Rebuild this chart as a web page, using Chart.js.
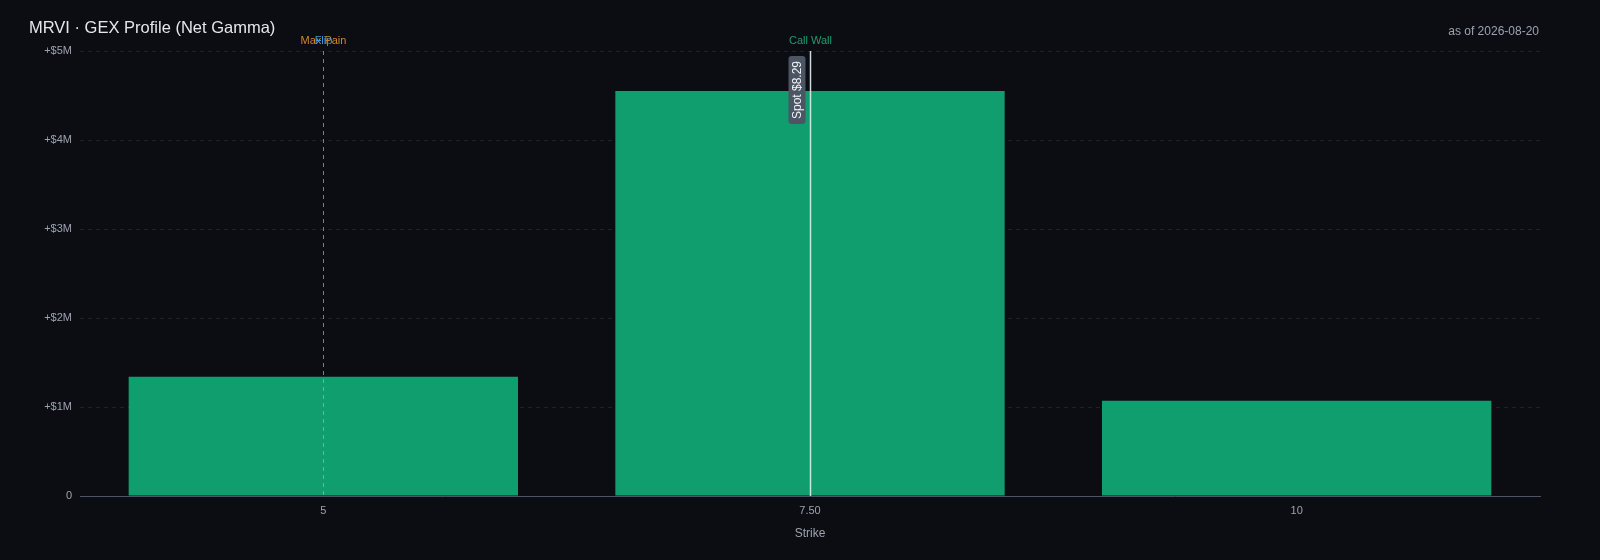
<!DOCTYPE html>
<html lang="en">
<head>
  <meta charset="UTF-8" />
  <title>MRVI GEX Profile</title>
  <script src="https://cdn.jsdelivr.net/npm/chart.js"></script>
  <style>
    html, body {
      margin: 0;
      padding: 0;
      background: #0b0d13;
      width: 1600px;
      height: 560px;
      overflow: hidden;
      font-family: 'Liberation Sans', Arial, sans-serif;
    }
    .wrap { position: relative; width: 1600px; height: 560px; }
    .title {
      position: absolute; left: 29px; top: 18px;
      color: #e5e7eb; font-size: 16.5px;
    }
    .asof {
      position: absolute; right: 61px; top: 24px;
      color: #9ca3af; font-size: 12px;
    }
    canvas { position: absolute; left: 0; top: 0; }
  </style>
</head>
<body>
  <div class="wrap">
    <canvas id="gexChart" width="1600" height="560"></canvas>
    <div class="title">MRVI · GEX Profile (Net Gamma)</div>
    <div class="asof">as of 2026-08-20</div>
  </div>
  <script>
    // strikes and net gamma exposure (USD)
    const strikes = ['5', '7.50', '10'];
    const netGamma = [1340000, 4550000, 1070000];
    const yTicks = [0, 1000000, 2000000, 3000000, 4000000, 5000000];

    // key levels, by strike
    const levels = [
      { name: 'Max Pain', strike: '5', color: '#c98a2b', line: 'rgba(215,200,150,0.6)', dash: [4, 4] },
      { name: 'Flip', strike: '5', color: '#3d9ad6', line: 'rgba(80,150,210,0.3)', dash: [4, 4] },
      { name: 'Call Wall', strike: '7.50', color: '#1f9d6e', line: 'rgba(16,185,129,0.7)', dash: [] }
    ];
    const spot = { label: 'Spot $8.29', strike: '7.50' };

    function fmtMoney(v) {
      if (v === 0) return '0';
      return '+$' + (v / 1e6) + 'M';
    }

    const levelLines = {
      id: 'levelLines',
      afterDatasetsDraw(chart) {
        const { ctx, chartArea, scales } = chart;
        const x = scales.x;
        ctx.save();
        levels.forEach(l => {
          const px = Math.round(x.getPixelForValue(strikes.indexOf(l.strike))) + 0.5;
          ctx.strokeStyle = l.line;
          ctx.lineWidth = 1;
          ctx.setLineDash(l.dash);
          ctx.beginPath();
          ctx.moveTo(px, chartArea.top);
          ctx.lineTo(px, chartArea.bottom);
          ctx.stroke();
          ctx.setLineDash([]);
          ctx.fillStyle = l.color;
          ctx.font = '11px "Liberation Sans", Arial, sans-serif';
          ctx.textAlign = 'center';
          ctx.textBaseline = 'middle';
          ctx.fillText(l.name, px, chartArea.top - 10);
        });
        // spot line + rotated tag
        const sx = Math.round(x.getPixelForValue(strikes.indexOf(spot.strike))) + 0.5;
        ctx.strokeStyle = 'rgba(235,240,240,0.85)';
        ctx.lineWidth = 1.5;
        ctx.beginPath();
        ctx.moveTo(sx, chartArea.top);
        ctx.lineTo(sx, chartArea.bottom);
        ctx.stroke();
        ctx.font = '12px "Liberation Sans", Arial, sans-serif';
        const tw = ctx.measureText(spot.label).width;
        const bh = tw + 10, bw = 17;
        const bx = sx - 22, by = chartArea.top + 5;
        ctx.fillStyle = '#4b5563';
        ctx.beginPath();
        ctx.roundRect(bx, by, bw, bh, 3);
        ctx.fill();
        ctx.translate(bx + bw / 2, by + bh / 2);
        ctx.rotate(-Math.PI / 2);
        ctx.fillStyle = '#f3f4f6';
        ctx.textAlign = 'center';
        ctx.textBaseline = 'middle';
        ctx.fillText(spot.label, 0, 1);
        ctx.restore();
      }
    };

    const ctx = document.getElementById('gexChart').getContext('2d');
    new Chart(ctx, {
      type: 'bar',
      data: {
        labels: strikes,
        datasets: [{
          label: 'Net GEX',
          data: netGamma,
          backgroundColor: '#119e6f',
          borderWidth: 0,
          categoryPercentage: 1.0,
          barPercentage: 0.8
        }]
      },
      options: {
        responsive: false,
        animation: false,
        layout: { padding: { top: 51, right: 60, left: 0, bottom: 0 } },
        plugins: {
          legend: { display: false },
          tooltip: { enabled: false }
        },
        scales: {
          x: {
            grid: { display: false, drawTicks: false },
            border: { display: true, color: '#4b5563' },
            ticks: {
              color: '#9ca3af',
              font: { family: 'Liberation Sans', size: 11 },
              padding: 8
            },
            title: {
              display: true,
              text: 'Strike',
              color: '#9ca3af',
              font: { family: 'Liberation Sans', size: 12 },
              padding: { top: 4, bottom: 19 }
            },
            afterFit(scale) { scale.height = 64; }
          },
          y: {
            min: 0,
            max: 5000000,
            afterBuildTicks(scale) { scale.ticks = yTicks.map(v => ({ value: v })); },
            grid: {
              color: 'rgba(255,255,255,0.09)',
              drawTicks: false
            },
            border: { display: false, dash: [4, 4] },
            ticks: {
              color: '#9ca3af',
              font: { family: 'Liberation Sans', size: 11 },
              padding: 8,
              callback: v => fmtMoney(v)
            },
            afterFit(scale) { scale.width = 80; }
          }
        }
      },
      plugins: [levelLines]
    });
  </script>
</body>
</html>
